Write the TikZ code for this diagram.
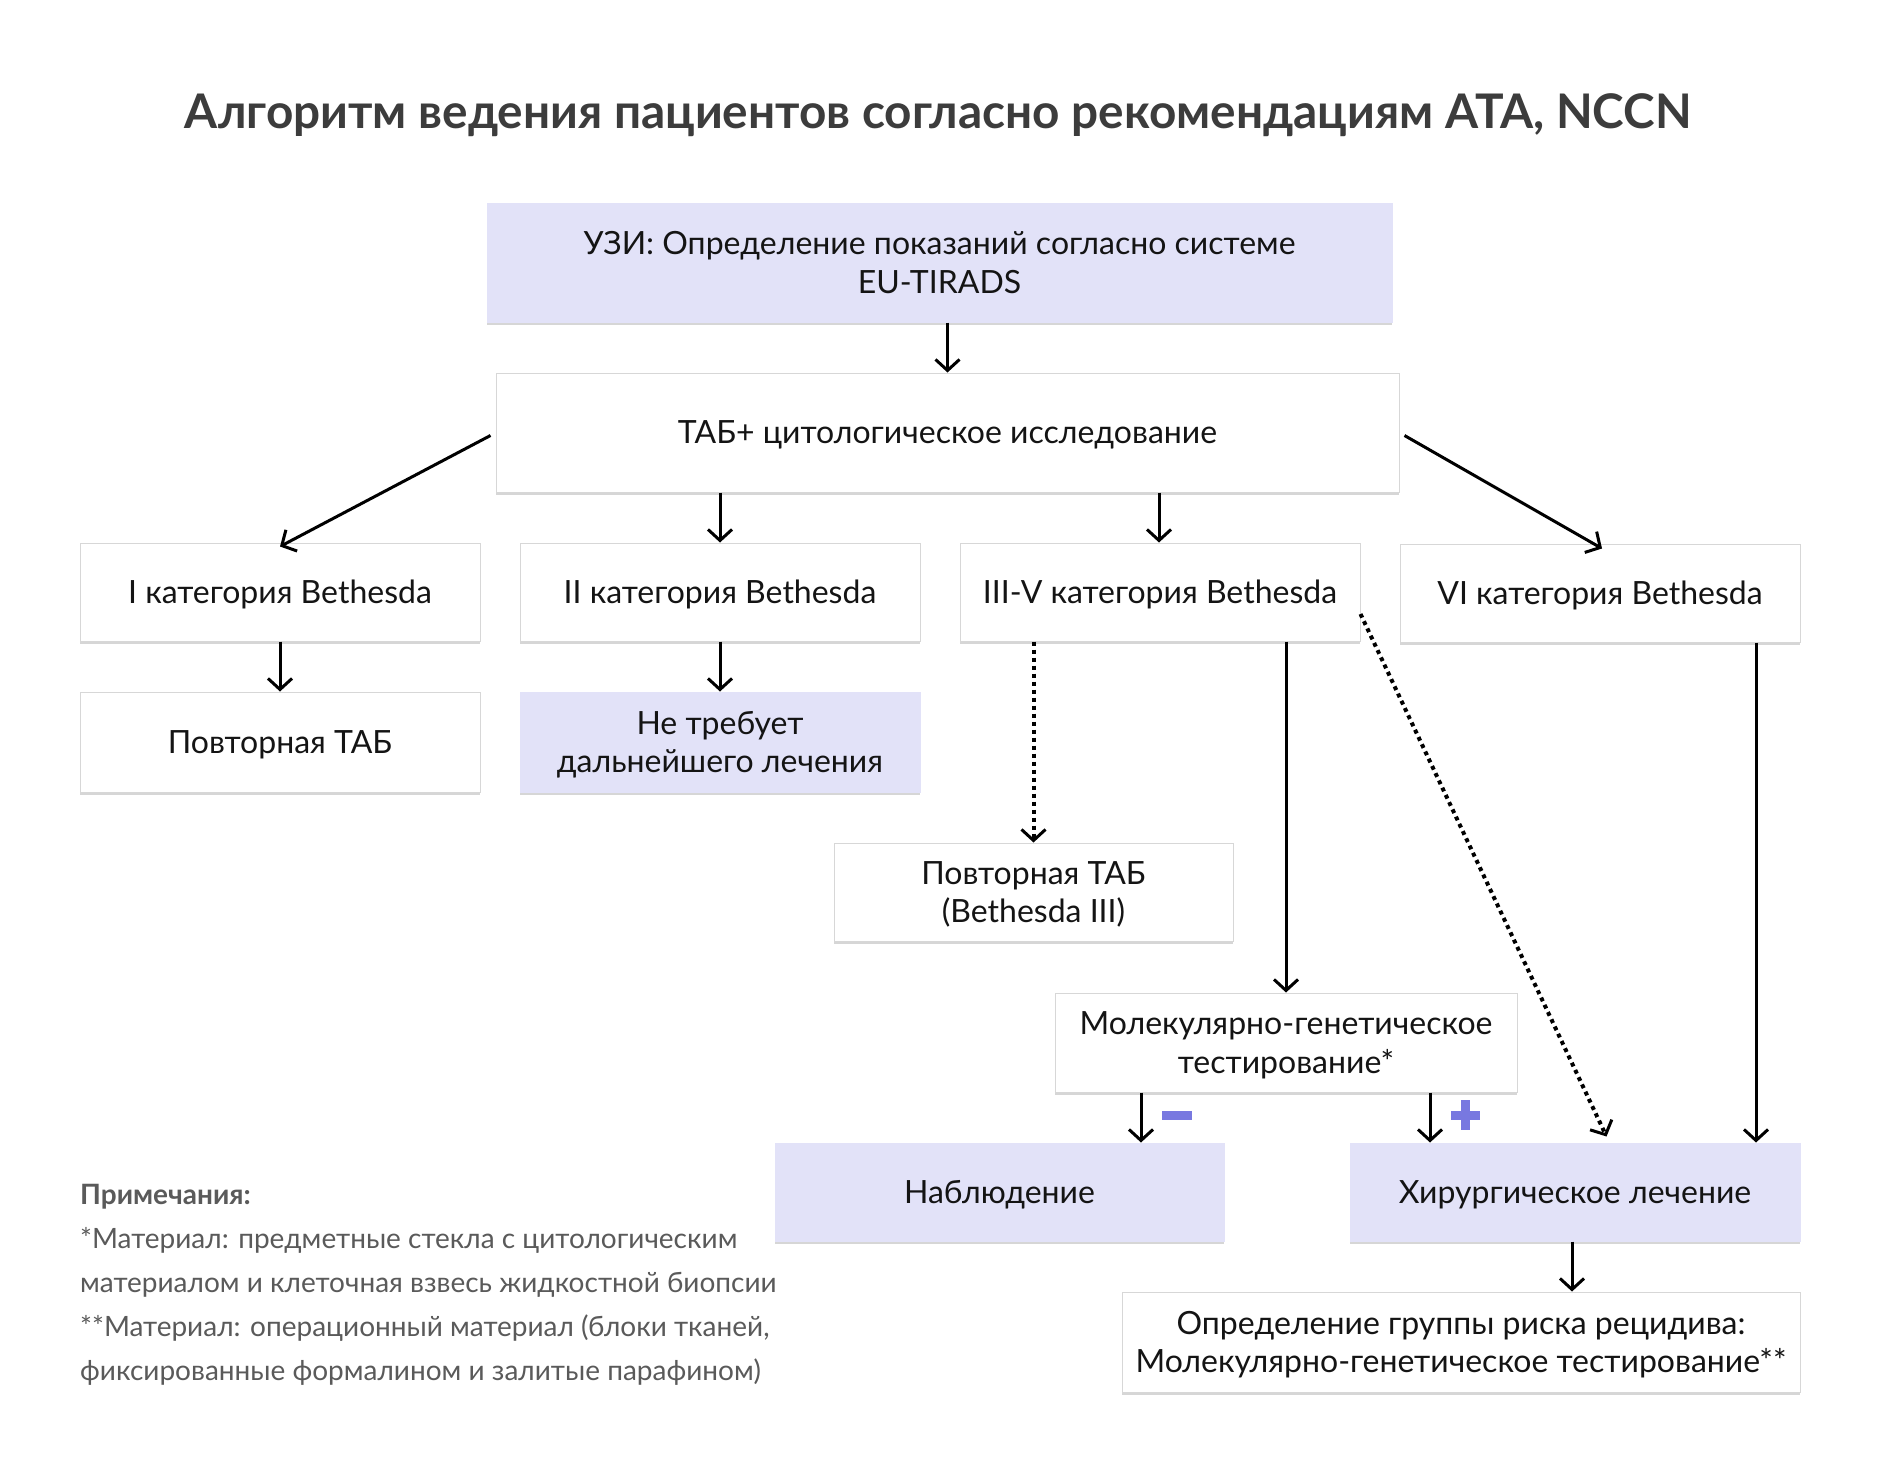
\documentclass[tikz,border=0pt]{standalone}
\usepackage{fontspec}
\setmainfont{Lato}
\usetikzlibrary{arrows.meta,shadows,calc}
\definecolor{lav}{RGB}{226,226,248}
\definecolor{bord}{RGB}{215,215,215}
\definecolor{txt}{RGB}{20,20,20}
\definecolor{ttl}{RGB}{60,60,60}
\definecolor{notec}{RGB}{90,90,90}
\definecolor{signc}{RGB}{120,120,224}
\begin{document}
\begin{tikzpicture}[x=1pt,y=-1pt,
 box/.style={draw=bord, line width=1pt, fill=white, inner sep=0pt, align=center, text=txt,
   font=\fontsize{32}{38.5}\selectfont, text depth=-9pt,
   drop shadow={shadow xshift=0pt, shadow yshift=-3pt, opacity=0.35, fill=black!45}},
 lbox/.style={box, fill=lav, draw=lav},
 arr/.style={line width=3pt, -{Straight Barb[length=11pt,width=24pt,line width=3pt]}},
 darr/.style={arr, line width=4pt, dash pattern=on 4pt off 4pt},
 sgn/.style={fill=signc},
]
\useasboundingbox[fill=white] (0,0) rectangle (1880,1483);

\node[font=\fontsize{47.7}{56}\selectfont\bfseries, text=ttl] (title) at (938,115)
  {Алгоритм ведения пациентов согласно рекомендациям ATA, NCCN};

\node[lbox, minimum width=905pt, minimum height=119pt] (uzi) at (939.5,262.5)
  {УЗИ: Определение показаний согласно системе\\EU-TIRADS};
\node[box, minimum width=903pt, minimum height=119pt] (tab) at (947.5,432.5)
  {ТАБ+ цитологическое исследование};

\node[box, minimum width=400pt, minimum height=98pt] (cat1) at (280,592) {I категория Bethesda};
\node[box, minimum width=400pt, minimum height=98pt] (cat2) at (720,592) {II категория Bethesda};
\node[box, minimum width=400pt, minimum height=98pt] (cat35) at (1160,592) {III-V категория Bethesda};
\node[box, minimum width=400pt, minimum height=98pt] (cat6) at (1600,593) {VI категория Bethesda};

\node[box, minimum width=400pt, minimum height=100pt] (rep1) at (280,742) {Повторная ТАБ};
\node[lbox, minimum width=400pt, minimum height=100pt] (none) at (720,742) {Не требует\\дальнейшего лечения};

\node[box, minimum width=399pt, minimum height=98pt] (rep3) at (1033.5,892) {Повторная ТАБ\\(Bethesda III)};
\node[box, minimum width=462pt, minimum height=99pt] (mol) at (1286,1042.5) {Молекулярно-генетическое\\тестирование*};

\node[lbox, minimum width=449pt, minimum height=98pt] (obs) at (999.5,1192) {Наблюдение};
\node[lbox, minimum width=450pt, minimum height=98pt] (surg) at (1575,1192) {Хирургическое лечение};
\node[box, minimum width=678pt, minimum height=100pt] (final) at (1461,1342)
  {Определение группы риска рецидива:\\Молекулярно-генетическое тестирование**};

\node[anchor=west, inner sep=0pt, text=notec, align=left, font=\fontsize{28}{44}\selectfont] (notes) at (80,1285)
  {\textbf{Примечания:}\\
   *Материал: предметные стекла с цитологическим\\
   материалом и клеточная взвесь жидкостной биопсии\\
   **Материал: операционный материал (блоки тканей,\\
   фиксированные формалином и залитые парафином)};

% connectors
\draw[arr] (tab.north |- uzi.south) -- (tab.north);
\draw[arr] ([xshift=-5pt,yshift=-3pt]tab.west) -- ([yshift=-4pt]cat1.north);
\draw[arr] ([xshift=5pt,yshift=-3pt]tab.east) -- ([xshift=2pt,yshift=-5pt]cat6.north);
\draw[arr] (cat2.north |- tab.south) -- (cat2.north);
\draw[arr] ([xshift=-1pt]cat35.north |- tab.south) -- ([xshift=-1pt]cat35.north);
\draw[arr] (cat1.south) -- (rep1.north);
\draw[arr] (cat2.south) -- (none.north);
\draw[darr] (rep3.north |- cat35.south) -- (rep3.north);
\draw[arr] (mol.north |- cat35.south) -- (mol.north);
\coordinate (dend) at ($(surg.north west)+(257,-6)$);
\draw[darr] ([yshift=-22pt]cat35.east) -- (dend);
\draw[arr] ([xshift=156pt]cat6.south) -- ([xshift=156pt]cat6.south |- surg.north);
\draw[arr] ([xshift=-145pt]mol.south) -- ([xshift=-145pt]mol.south |- obs.north);
\draw[arr] ([xshift=144pt]mol.south) -- ([xshift=144pt]mol.south |- surg.north);
\draw[arr] ([xshift=-3pt]surg.south) -- ([xshift=-3pt]surg.south |- final.north);

% signs
\fill[sgn] (1162,1111) rectangle (1192,1120);
\fill[sgn] (1451,1111) rectangle (1480,1120);
\fill[sgn] (1461,1100) rectangle (1470,1130);
\end{tikzpicture}
\end{document}
